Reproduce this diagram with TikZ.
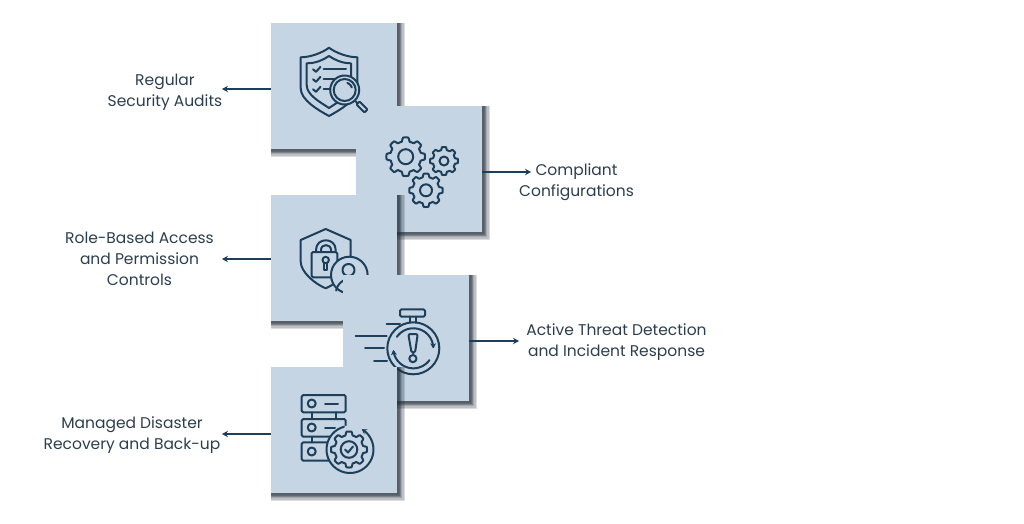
\documentclass[tikz,border=0pt]{standalone}
\usepackage{fontspec}
\setmainfont{Poppins}
\usetikzlibrary{arrows.meta,shadows}
\definecolor{panelblue}{HTML}{C5D5E3}
\definecolor{inkblue}{HTML}{1D3F5A}
\definecolor{labelgray}{HTML}{2C3E4E}
\definecolor{shadowgray}{HTML}{1E2A36}
\tikzset{
    softshadow/.style={general shadow={fill=shadowgray, fill opacity=0.16, shadow xshift=#1pt, shadow yshift=-#1pt, shadow scale={1+#1/63}}},
    panel/.style={fill=panelblue, minimum size=126pt, inner sep=0pt, outer sep=0pt,
        softshadow=4, softshadow=3.25, softshadow=2.5, softshadow=2, softshadow=1.75, softshadow=1.5, softshadow=1.25, softshadow=1},
    caption/.style={text=labelgray, align=center, inner sep=0pt, font=\fontsize{15.5}{21}\selectfont},
    pointer/.style={draw=inkblue, line width=1.5pt, -{Stealth[length=6pt,width=6.5pt]}},
    iconline/.style={draw=inkblue, line width=2pt, line join=round, line cap=round},
    arcarrow/.style={iconline, -{Stealth[length=5pt,width=6pt]}},
    % gear of radius 1, scaled when placed
    gearicon/.pic={
        \draw[iconline, fill=panelblue, smooth] plot[domain=0:360, samples=145]
            ({(0.8+0.2*min(1,max(0,0.5+1.3*cos(8*\x))))*cos(\x)},{(0.8+0.2*min(1,max(0,0.5+1.3*cos(8*\x))))*sin(\x)}) -- cycle;
    }
}
\newcommand{\iconarc}[6][iconline]{\draw[#1] plot[domain=#5:#6, samples=40] ({#2+#4*cos(\x)},{#3+#4*sin(\x)});}

\begin{document}
\begin{tikzpicture}[x=1pt, y=-1pt]
    \useasboundingbox (0,0) rectangle (1024,523);

    % audits
    \node[panel] (boxaudit) at (334,86) {};
    \draw[iconline] (329,47.7) .. controls (336,53) and (348,57.3) .. (357.3,57.3) -- (357.3,88.3)
        .. controls (357.3,100) and (340,110) .. (329,116) .. controls (318,110) and (300.7,100) .. (300.7,88.3)
        -- (300.7,57.3) .. controls (310,57.3) and (322,53) .. (329,47.7) -- cycle;
    \draw[iconline] (329,56) .. controls (335,60) and (342,63.3) .. (351,63.3) -- (351,85)
        .. controls (351,95) and (338,102) .. (329,108) .. controls (320,102) and (306.7,95) .. (306.7,85)
        -- (306.7,63.3) .. controls (316,63.3) and (323,60) .. (329,56) -- cycle;
    \foreach \y in {69.3,79.3,89.3}
        \draw[iconline] (313,\y) -- (316,\y+2.5) -- (320.5,\y-2.5);
    \draw[iconline] (323.5,69.3) -- (346,69.3);
    \draw[iconline] (323.5,79.3) -- (335,79.3);
    \draw[iconline] (323.5,89.3) -- (331,89.3);
    \draw[iconline, fill=panelblue] (344.7,90) circle (14.5pt);
    \draw[iconline] (344.7,90) circle (11pt);
    \iconarc{344.7}{90}{7.5}{-70}{-20}

    % configurations
    \node[panel] (boxconfig) at (419,169) {};
    % the lens handle lies over this panel
    \draw[iconline] (354.8,100.5) -- (358,104);
    \draw[iconline, fill=panelblue, rounded corners=1pt] (356.5,104.5) -- (359.5,101.5) -- (367.5,109.5) -- (364.5,112.5) -- cycle;
    \pic at (405.7,156.7) [scale=19.3] {gearicon};
    \draw[iconline] (405.7,156.7) circle (7.5pt);
    \pic at (444,161) [scale=14] {gearicon};
    \draw[iconline] (444,161) circle (4.5pt);
    \pic at (426,190.3) [scale=16.7] {gearicon};
    \draw[iconline] (426,190.3) circle (6pt);

    % access
    \node[panel] (boxaccess) at (334,258) {};
    \draw[iconline] (325.7,229) -- (350.7,240) -- (350.7,261.7) .. controls (350.7,272) and (336,284) .. (325.7,288.3)
        .. controls (315,284) and (300.7,272) .. (300.7,261.7) -- (300.7,240) -- cycle;
    \draw[iconline, fill=panelblue, rounded corners=1.5pt] (311.5,252) rectangle (337.3,277.3);
    \draw[iconline] (316,252) -- (316,250) .. controls (316,237) and (335.7,237) .. (335.7,250) -- (335.7,252);
    \draw[iconline] (321,252) -- (321,250) .. controls (321,243.5) and (331,243.5) .. (331,250) -- (331,252);
    \draw[iconline] (325.7,260) circle (3.2pt);
    \draw[iconline] (324,263) -- (324,270) -- (327.4,270) -- (327.4,263);
    \draw[iconline, fill=panelblue] (349.3,275) circle (18.3pt);
    \draw[iconline] (348.5,270) circle (6pt);
    \iconarc{350}{293}{14}{190}{290}

    % detection
    \node[panel] (boxthreat) at (406,338) {};
    \draw[iconline, rounded corners=1.5pt] (400,309.3) rectangle (425,316.7);
    \draw[iconline] (410,316.7) -- (410,322.5);
    \draw[iconline] (416,316.7) -- (416,322.5);
    \draw[iconline] (413.3,348.3) circle (26pt);
    \draw[iconline] (386.7,324) -- (400,324);
    \draw[iconline] (355.7,336) -- (386.7,336);
    \draw[iconline] (365,348.3) -- (384,348.3);
    \draw[iconline] (374,360.7) -- (387,360.7);
    \iconarc[arcarrow]{413.3}{348.3}{20}{215}{360}
    \iconarc[arcarrow]{413.3}{348.3}{20}{36}{175}
    \draw[iconline, rounded corners=2pt] (408.3,334) -- (417.7,334) -- (415,353) -- (411.6,353) -- cycle;
    \draw[iconline] (412.9,358.6) circle (3.6pt);

    % recovery
    \node[panel] (boxrecover) at (334,430) {};
    \draw[iconline, rounded corners=1.5pt] (301.7,395) rectangle (345.7,412.3);
    \draw[iconline, rounded corners=1.5pt] (301.7,419) rectangle (345.7,436.7);
    \draw[iconline, rounded corners=1.5pt] (301.7,442.3) rectangle (345.7,460.7);
    \foreach \x in {311.7,336} {
        \draw[iconline] (\x,412.3) -- (\x,419);
        \draw[iconline] (\x,436.7) -- (\x,442.3);
    }
    \foreach \y in {403.5,427.5,451.5}
        \draw[iconline] (311.7,\y) circle (4pt);
    \draw[iconline] (325,403.5) -- (338,403.5);
    \draw[iconline] (325,427.5) -- (335,427.5);
    \fill[panelblue] (350,449.5) circle (24pt);
    \iconarc[arcarrow]{350}{449.5}{23.5}{255}{-60}
    \pic at (349,449.5) [scale=18] {gearicon};
    \draw[iconline] (349,449.5) circle (8.3pt);
    \draw[iconline] (345,449.5) -- (348,452.5) -- (353,446.5);

    % labels and pointers
    \node[caption] (lblaudit) at (165,92) {Regular\\Security Audits};
    \node[caption] (lblconfig) at (576.5,182) {Compliant\\Configurations};
    \node[caption] (lblaccess) at (139.5,258.5) {Role-Based Access\\and Permission\\Controls};
    \node[caption] (lblthreat) at (616.5,342.5) {Active Threat Detection\\and Incident Response};
    \node[caption] (lblrecover) at (132,435) {Managed Disaster\\Recovery and Back-up};

    \coordinate (tipaudit) at (222,89);
    \coordinate (tipconfig) at (531,172);
    \coordinate (tipaccess) at (222,259);
    \coordinate (tipthreat) at (519,341);
    \coordinate (tiprecover) at (222,434);
    \draw[pointer] (boxaudit.west |- tipaudit) -- (tipaudit);
    \draw[pointer] (boxconfig.east |- tipconfig) -- (tipconfig);
    \draw[pointer] (boxaccess.west |- tipaccess) -- (tipaccess);
    \draw[pointer] (boxthreat.east |- tipthreat) -- (tipthreat);
    \draw[pointer] (boxrecover.west |- tiprecover) -- (tiprecover);
\end{tikzpicture}
\end{document}
